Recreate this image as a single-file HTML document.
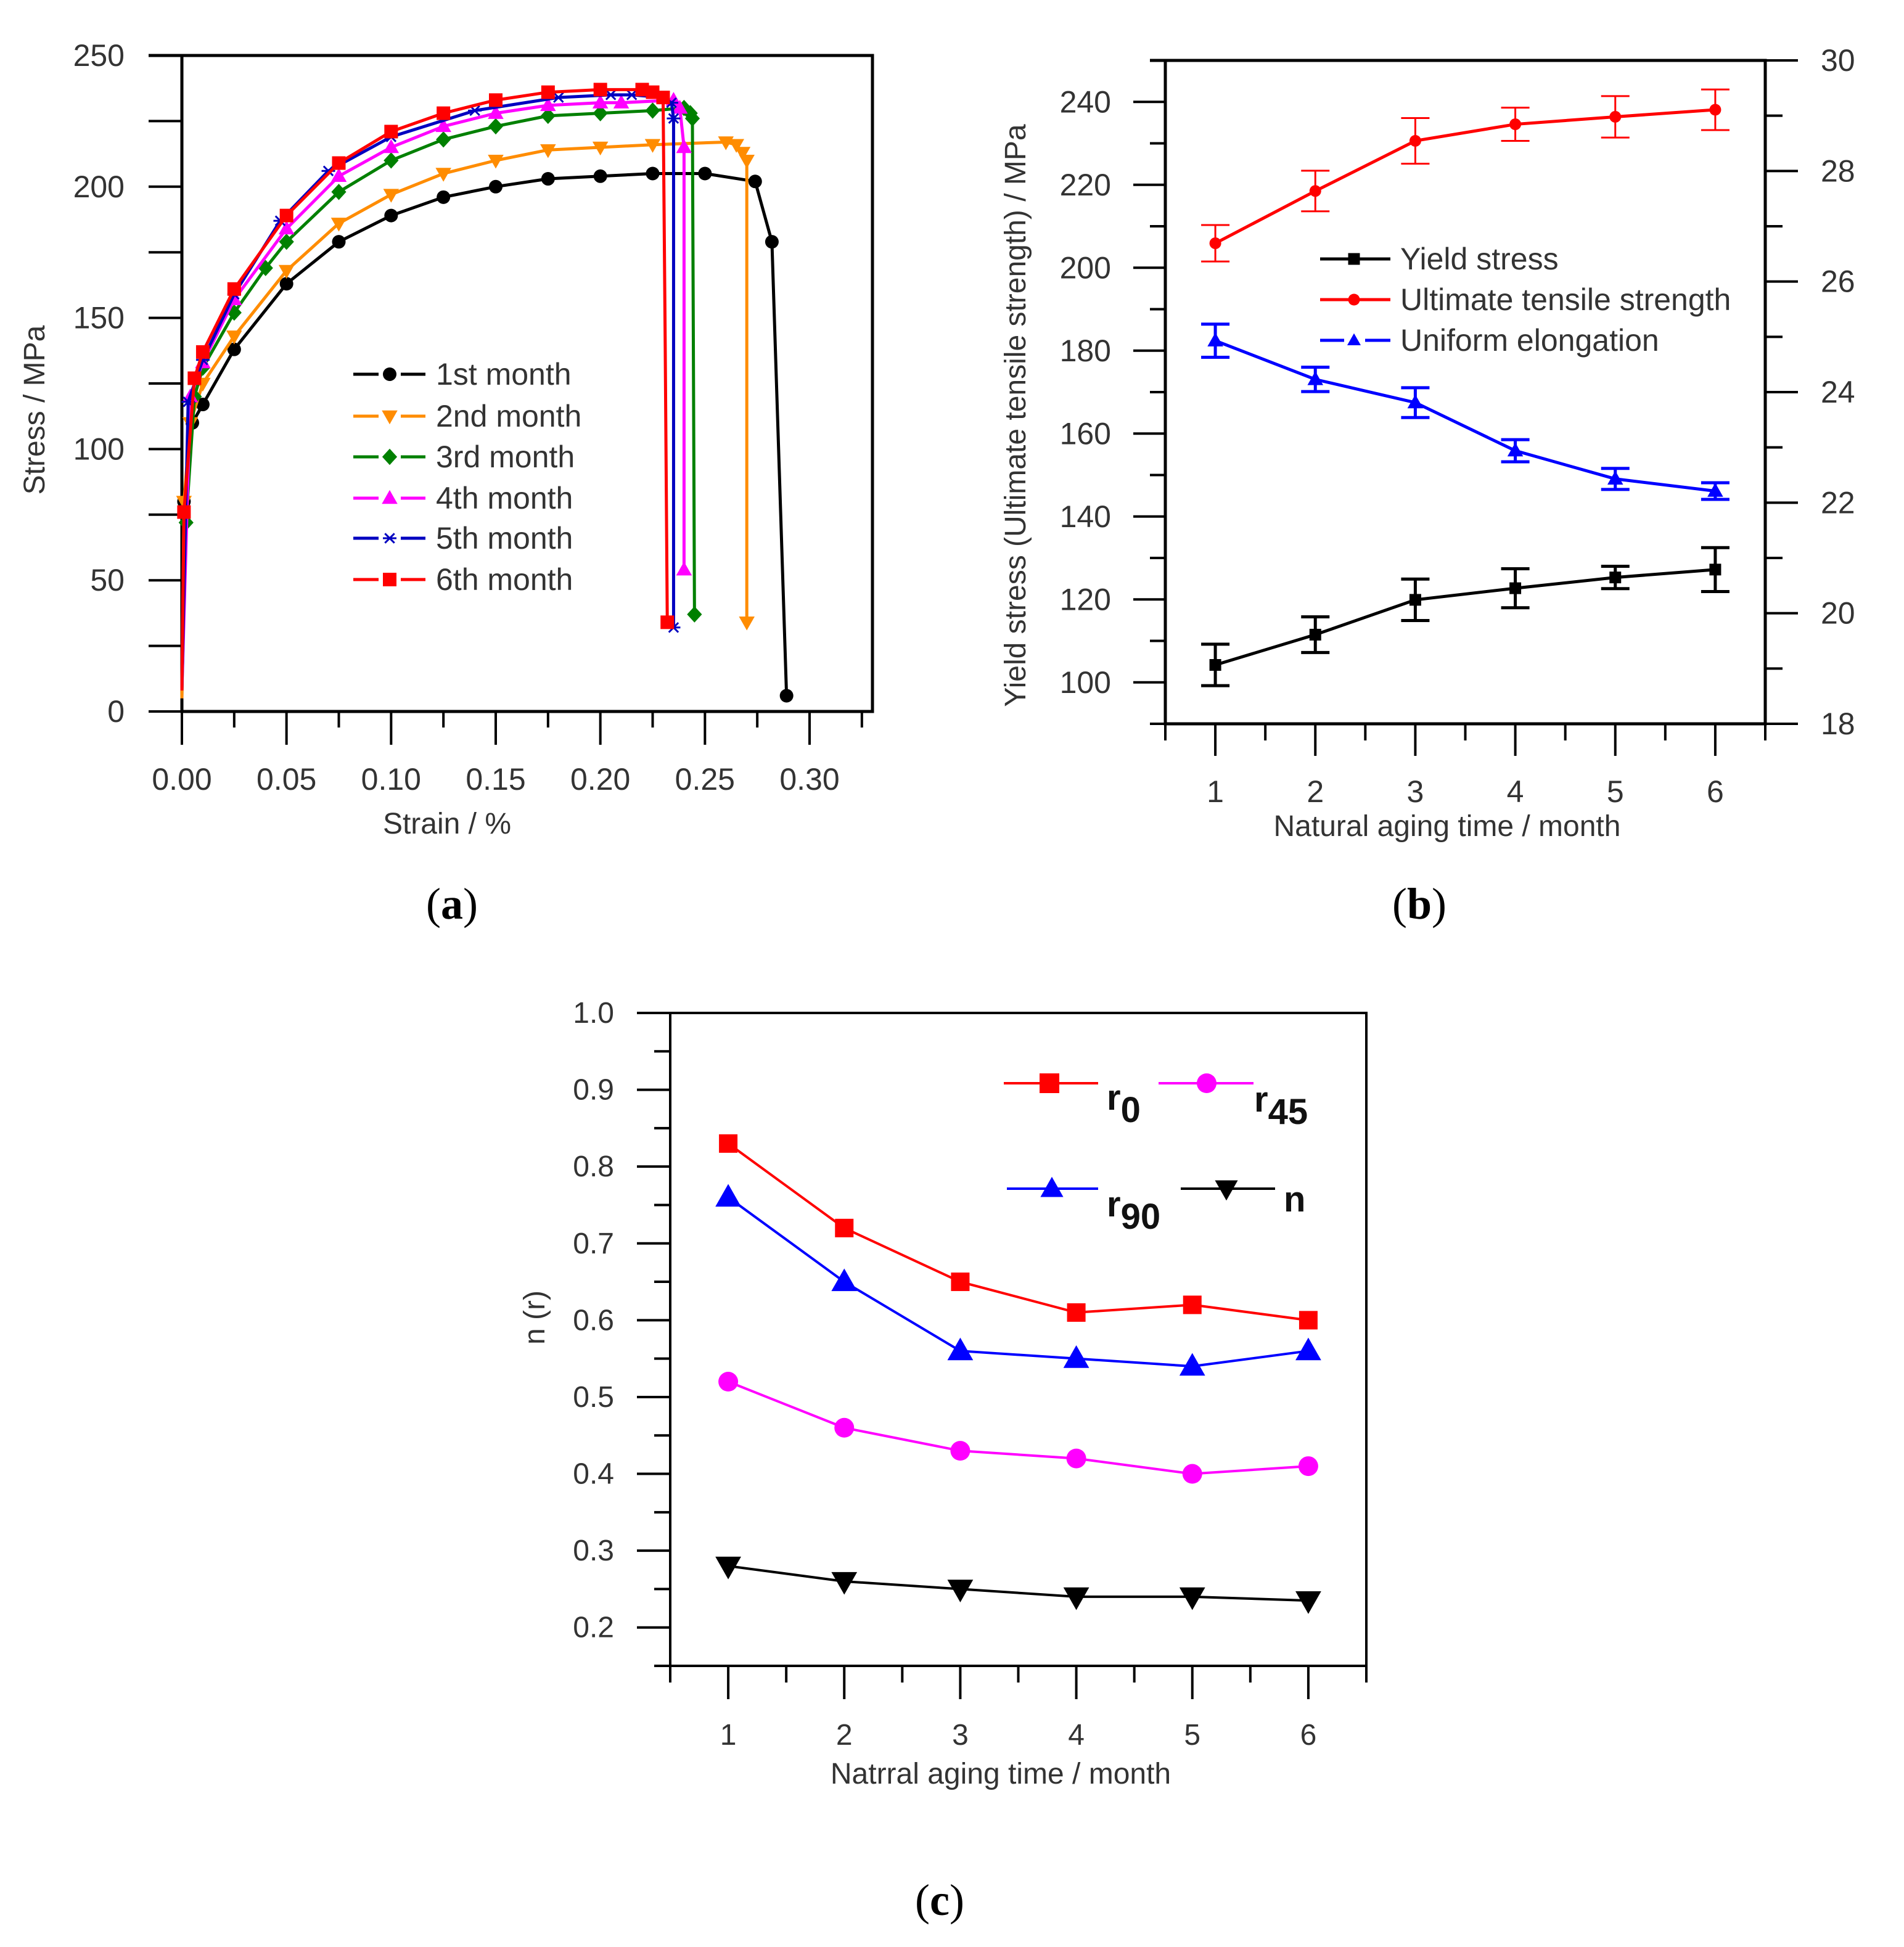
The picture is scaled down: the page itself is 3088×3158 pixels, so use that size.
<!DOCTYPE html>
<html><head><meta charset="utf-8"><style>
html,body{margin:0;padding:0;background:#fff;}
svg{display:block;font-family:"Liberation Sans",Arial,sans-serif;}
</style></head><body>
<svg id="fig" width="3088" height="3158" viewBox="0 0 3088 3158" xmlns="http://www.w3.org/2000/svg">
<rect x="0" y="0" width="3088" height="3158" fill="#fff"/>
</svg>
<script>
// ---------- Chart (a) data ----------
const aSeriesNames = ["1st month","2nd month","3rd month","4th month","5th month","6th month"];
const aColors = ["#000000","#ff8c00","#008000","#ff00ff","#0000c0","#ff0000"];
const aMarkers = ["circle","tridown","diamond","triup","star","square"];
const aStrain1 = [0,0.001,0.005,0.01,0.025,0.05,0.075,0.1,0.125,0.15,0.175,0.2,0.225,0.25,0.274,0.282,0.289];
const aStress1 = [5,80,110,117,138,163,179,189,196,200,203,204,205,205,202,179,6];
const aStrain2 = [0,0.001,0.004,0.01,0.025,0.05,0.075,0.1,0.125,0.15,0.175,0.2,0.225,0.26,0.265,0.268,0.27,0.27];
const aStress2 = [5,80,110,125,143,168,186,197,205,210,214,215,216,217,216,213,210,34];
const aStrain3 = [0,0.002,0.006,0.01,0.025,0.04,0.05,0.075,0.1,0.125,0.15,0.175,0.2,0.225,0.24,0.243,0.244,0.245];
const aStress3 = [8,72,120,131,152,169,179,198,210,218,223,227,228,229,230,228,226,37];
const aStrain4 = [0,0.004,0.01,0.025,0.05,0.075,0.1,0.125,0.15,0.175,0.2,0.21,0.235,0.238,0.24,0.24];
const aStress4 = [8,120,133,157,184,204,215,223,228,231,232,232,233,230,215,54];
const aStrain5 = [0,0.003,0.01,0.025,0.047,0.07,0.1,0.14,0.18,0.205,0.215,0.23,0.234,0.235,0.235];
const aStress5 = [9,118,134,159,187,206,219,229,234,235,235,234,232,226,32];
const aStrain6 = [0,0.001,0.006,0.01,0.025,0.05,0.075,0.1,0.125,0.15,0.175,0.2,0.22,0.225,0.23,0.231,0.232];
const aStress6 = [8,76,127,137,161,189,209,221,228,233,236,237,237,236,234,140,34];
const aXTicks = ["0.00","0.05","0.10","0.15","0.20","0.25","0.30"];
const aYTicks = ["0","50","100","150","200","250"];

// ---------- Chart (b) data ----------
const bMonths = [1,2,3,4,5,6];
const bYield = [104.2,111.5,119.9,122.7,125.3,127.2];
const bYieldErr = [5,4.3,5,4.7,2.7,5.3];
const bUTS = [205.9,218.5,230.6,234.6,236.4,238.1];
const bUTSErr = [4.4,4.9,5.5,4,5,4.9];
const bElong = [24.93,24.23,23.81,22.94,22.43,22.21];
const bElongErr = [0.3,0.22,0.27,0.2,0.19,0.15];
const bLeftTicks = ["100","120","140","160","180","200","220","240"];
const bRightTicks = ["18","20","22","24","26","28","30"];

// ---------- Chart (c) data ----------
const cMonths = [1,2,3,4,5,6];
const cR0 = [0.83,0.72,0.65,0.61,0.62,0.60];
const cR45 = [0.52,0.46,0.43,0.42,0.40,0.41];
const cR90 = [0.76,0.65,0.56,0.55,0.54,0.56];
const cN = [0.28,0.26,0.25,0.24,0.24,0.235];
const cYTicks = ["0.2","0.3","0.4","0.5","0.6","0.7","0.8","0.9","1.0"];

const NS = "http://www.w3.org/2000/svg";
const svg = document.getElementById("fig");
function mk(tag, attrs, parent){
  const e = document.createElementNS(NS, tag);
  for (const k in attrs) e.setAttribute(k, attrs[k]);
  (parent||svg).appendChild(e);
  return e;
}
function line(x1,y1,x2,y2,color,w,parent){
  return mk("line",{x1:x1,y1:y1,x2:x2,y2:y2,stroke:color,"stroke-width":w},parent);
}
function text(x,y,str,size,anchor,parent,extra){
  const t = mk("text",{x:x,y:y,"font-size":size,"text-anchor":anchor||"middle",fill:"#333"},parent);
  if(extra) for(const k in extra) t.setAttribute(k,extra[k]);
  t.textContent = str;
  return t;
}
function marker(type,x,y,s,color,parent){
  let e;
  if(type==="circle") e = mk("circle",{cx:x,cy:y,r:s/2,fill:color},parent);
  else if(type==="square") e = mk("rect",{x:x-s/2,y:y-s/2,width:s,height:s,fill:color},parent);
  else if(type==="diamond") e = mk("polygon",{points:`${x},${y-s*0.6} ${x+s*0.55},${y} ${x},${y+s*0.6} ${x-s*0.55},${y}`,fill:color},parent);
  else if(type==="triup") e = mk("polygon",{points:`${x},${y-s*0.6} ${x+s*0.58},${y+s*0.42} ${x-s*0.58},${y+s*0.42}`,fill:color},parent);
  else if(type==="tridown") e = mk("polygon",{points:`${x},${y+s*0.6} ${x+s*0.58},${y-s*0.42} ${x-s*0.58},${y-s*0.42}`,fill:color},parent);
  else if(type==="star"){
    e = mk("g",{stroke:color,"stroke-width":3},parent);
    const r=s/2;
    line(x-r,y,x+r,y,color,3,e); line(x-r*0.7,y-r*0.7,x+r*0.7,y+r*0.7,color,3,e); line(x-r*0.7,y+r*0.7,x+r*0.7,y-r*0.7,color,3,e);
  }
  return e;
}

// ================= Chart (a) =================
const A = {L:295,R:1415,T:90,B:1154,x0:0,x1:0.33,y0:0,y1:250};
const ax = v => A.L + (v-A.x0)/(0.30)*(1313-295);
const ay = v => A.B - (v-A.y0)/(A.y1-A.y0)*(A.B-A.T);
const gA = mk("g",{});


const frameA = mk("rect",{x:A.L,y:A.T,width:A.R-A.L,height:A.B-A.T,fill:"none",stroke:"#000","stroke-width":5},gA);


line(241,A.T,A.L,A.T,"#000",5,gA);
for(let v=0; v<=250; v+=25){ line(241,ay(v),A.L,ay(v),"#000",4,gA); }
aYTicks.forEach(s=>{
  const t = text(202, ay(+s)+17, s, 50, "end", gA);
  
  
});
for(let i=0;i<=13;i++){ const v=i*0.025; const major=i%2===0; line(ax(v),A.B,ax(v),A.B+(major?54:26),"#000",4,gA); }
aXTicks.forEach(s=>{
  const t = text(ax(+s), 1281, s, 50, "middle", gA);
  
  
});
const axt = text(725,1352,"Strain / %",48,"middle",gA);


const ayt = text(0,0,"Stress / MPa",48,"middle",gA,{transform:"translate(72,665) rotate(-90)"});


const aStrains=[aStrain1,aStrain2,aStrain3,aStrain4,aStrain5,aStrain6];
const aStresses=[aStress1,aStress2,aStress3,aStress4,aStress5,aStress6];
for(let s=0;s<6;s++){
  const g = mk("g",{},gA);
  
  
  const pts = aStrains[s].map((v,i)=>ax(v)+","+ay(aStresses[s][i])).join(" ");
  mk("polyline",{points:pts,fill:"none",stroke:aColors[s],"stroke-width":5,"stroke-linejoin":"round"},g);
  const n = aStrains[s].length;
  aStrains[s].forEach((v,i)=>{
    // skip first point and mid-drop point just before the final fracture point of last series
    if(i===0) return;
    if(s===5 && i===n-2) return;
    marker(aMarkers[s],ax(v),ay(aStresses[s][i]),22,aColors[s],g);
  });
}
const aLegY=[607,675,741,808,873,940];
aSeriesNames.forEach((n,i)=>{
  const g = mk("g",{},gA);
  
  
  line(573,aLegY[i],614,aLegY[i],aColors[i],5,g);
  line(650,aLegY[i],690,aLegY[i],aColors[i],5,g);
  marker(aMarkers[i],632,aLegY[i],22,aColors[i],g);
  text(707,aLegY[i]+17,n,50,"start",g);
});

// ================= Chart (b) =================
const B = {L:1890,R:2863,T:98,B:1174};
const bx = v => B.L + (v-0.5)/6*(B.R-B.L);
const byL = v => B.B - (v-90)/160*(B.B-B.T);
const byR = v => B.B - (v-18)/12*(B.B-B.T);
const gB = mk("g",{});


const frameB = mk("rect",{x:B.L,y:B.T,width:B.R-B.L,height:B.B-B.T,fill:"none",stroke:"#000","stroke-width":5},gB);


line(1865,B.T,B.L,B.T,"#000",5,gB);
for(let v=90; v<=250; v+=10){ const major=(v%20===0)&&v>=100&&v<=240; line(major?1838:1865,byL(v),B.L,byL(v),"#000",4,gB); }
bLeftTicks.forEach(s=>{
  const t=text(1802,byL(+s)+17,s,50,"end",gB);
  
  
});
for(let v=18; v<=30; v+=1){ const major=v%2===0; line(B.R,byR(v),B.R+(major?53:28),byR(v),"#000",4,gB); }
bRightTicks.forEach(s=>{
  const t=text(2953,byR(+s)+17,s,50,"start",gB);
  
  
});
for(let i=0;i<=12;i++){ const v=0.5+i*0.5; const major=i%2===1; line(bx(v),B.B,bx(v),B.B+(major?52:27),"#000",4,gB); }
bMonths.forEach(m=>{
  const t=text(bx(m),1301,String(m),50,"middle",gB);
  
  
});
const bxt=text(2347,1356,"Natural aging time / month",48,"middle",gB);


const byt=text(0,0,"Yield stress (Ultimate tensile strength) / MPa",48,"middle",gB,{transform:"translate(1663,674) rotate(-90)"});


function bSeries(vals,errs,yf,color,mtype,ms,ew,name){
  const g=mk("g",{},gB);
  
  
  mk("polyline",{points:bMonths.map((m,i)=>bx(m)+","+yf(vals[i])).join(" "),fill:"none",stroke:color,"stroke-width":5},g);
  bMonths.forEach((m,i)=>{
    const x=bx(m), y1=yf(vals[i]+errs[i]), y2=yf(vals[i]-errs[i]);
    line(x,y1,x,y2,color,ew,g); line(x-23,y1,x+23,y1,color,ew,g); line(x-23,y2,x+23,y2,color,ew,g);
    marker(mtype,x,yf(vals[i]),ms,color,g);
  });
}
bSeries(bYield,bYieldErr,byL,"#000","square",19,5,"yield-stress-series");
bSeries(bUTS,bUTSErr,byL,"#ff0000","circle",19,3,"uts-series");
bSeries(bElong,bElongErr,byR,"#0000ff","triup",22,5,"uniform-elongation-series");
const bLeg=[["Yield stress","#000","square",420],["Ultimate tensile strength","#ff0000","circle",486],["Uniform elongation","#0000ff","triup",552]];
bLeg.forEach(([n,c,m,y])=>{
  const g=mk("g",{},gB);
  
  
  if(m==="triup"){ line(2141,y,2180,y,c,5,g); line(2214,y,2255,y,c,5,g); } else line(2141,y,2255,y,c,5,g);
  marker(m,2196,y,19,c,g);
  text(2271,y+17,n,50,"start",g);
});

// ================= Chart (c) =================
const C = {L:1087,R:2216,T:1643,B:2702};
const cx = v => C.L + (v-0.5)/6*(C.R-C.L);
const cy = v => C.B - (v-0.15)/0.85*(C.B-C.T);
const gC=mk("g",{});


const frameC=mk("rect",{x:C.L,y:C.T,width:C.R-C.L,height:C.B-C.T,fill:"none",stroke:"#000","stroke-width":4},gC);


line(1033,C.T,C.L,C.T,"#000",4,gC);
for(let i=0;i<=17;i++){ const v=0.15+i*0.05; const major=i%2===1; line(major?1033:1061,cy(v),C.L,cy(v),"#000",4,gC); }
cYTicks.forEach(s=>{
  const t=text(996,cy(+s)+16,s,48,"end",gC);
  
  
});
for(let i=0;i<=12;i++){ const v=0.5+i*0.5; const major=i%2===1; line(cx(v),C.B,cx(v),C.B+(major?54:27),"#000",4,gC); }
cMonths.forEach(m=>{
  const t=text(cx(m),2830,String(m),48,"middle",gC);
  
  
});
const cxt=text(1623,2893,"Natrral aging time / month",48,"middle",gC);


const cyt=text(0,0,"n (r)",48,"middle",gC,{transform:"translate(883,2137) rotate(-90)"});


function cSeries(vals,color,mtype,ms,name){
  const g=mk("g",{},gC);
  
  
  mk("polyline",{points:cMonths.map((m,i)=>cx(m)+","+cy(vals[i])).join(" "),fill:"none",stroke:color,"stroke-width":4},g);
  cMonths.forEach((m,i)=>marker(mtype,cx(m),cy(vals[i]),ms,color,g));
}
cSeries(cR0,"#ff0000","square",30,"r0-series");
cSeries(cR45,"#ff00ff","circle",32,"r45-series");
cSeries(cR90,"#0000ff","triup",36,"r90-series");
cSeries(cN,"#000","tridown",36,"n-series");
const cLeg=[["r","0",1628,1781,1702,1757,"#ff0000","square",1795,1800],
            ["r","45",1879,2033,1957,1757,"#ff00ff","circle",2034,1803],
            ["r","90",1633,1781,1706,1928,"#0000ff","triup",1795,1973],
            ["n","",1915,2068,1989,1928,"#000","tridown",2082,1965]];
cLeg.forEach(([b,sub,x1,x2,mx,y,c,m,tx,ty])=>{
  const g=mk("g",{},gC);
  
  
  line(x1,y,x2,y,c,4,g);
  marker(m,mx,y,32,c,g);
  const t=text(tx,ty,"",58,"start",g,{"font-weight":"bold",fill:"#111"});
  const s1=document.createElementNS(NS,"tspan"); s1.textContent=b; t.appendChild(s1);
  if(sub){ const s2=document.createElementNS(NS,"tspan"); s2.setAttribute("dy","20"); s2.setAttribute("font-size","58"); s2.textContent=sub; t.appendChild(s2); }
});

// ---------- panel labels ----------
[["(a)",733,1490,"panel-label-a"],["(b)",2302,1490,"panel-label-b"],["(c)",1524,3106,"panel-label-c"]].forEach(([s,x,y,n])=>{
  const t=text(x,y,"",72,"middle",svg,{"font-family":"Liberation Serif, serif",fill:"#000"});
  
  
  const p1=document.createElementNS(NS,"tspan"); p1.textContent="(";
  const p2=document.createElementNS(NS,"tspan"); p2.setAttribute("font-weight","bold"); p2.textContent=s[1];
  const p3=document.createElementNS(NS,"tspan"); p3.textContent=")";
  t.appendChild(p1); t.appendChild(p2); t.appendChild(p3);
});
</script>
</body></html>
